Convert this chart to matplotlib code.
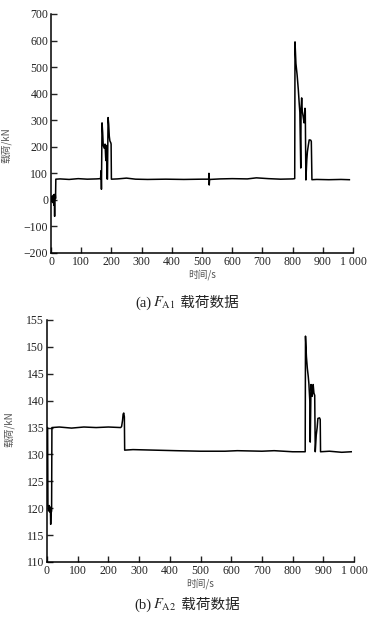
import matplotlib
matplotlib.use("Agg")
import matplotlib.pyplot as plt
from matplotlib.offsetbox import TextArea, HPacker, AnchoredOffsetbox

# ── fonts ──
plt.rcParams["font.family"] = ["Liberation Serif", "Noto Sans CJK SC"]
plt.rcParams["mathtext.fontset"] = "stix"
plt.rcParams["axes.unicode_minus"] = True

# ─────────────────────────────────────────────
# DATA
# ─────────────────────────────────────────────
# (a) F_A1 load, kN
fa1_time = [0, 2, 4, 5, 7, 9, 10, 11, 12, 13, 14, 15, 16,
            30, 60, 90, 120, 150, 164, 166, 167, 169, 171, 173, 176, 179,
            181, 182, 183, 184, 185, 187, 189, 191, 193, 195, 198, 199, 200,
            220, 250, 280, 320, 380, 440, 500, 522, 523, 524, 525, 526,
            560, 600, 650, 680, 720, 760, 800, 807,
            808, 811, 815, 819, 822, 824, 827, 828, 830, 832, 835, 838,
            841, 842, 844, 847, 849, 852, 855, 860, 862, 864,
            880, 920, 960, 988]
fa1_load = [10, -5, 15, -10, 5, 20, -20, 0, -62, 10, 22, 5, 78,
            79, 77, 80, 78, 79, 80, 110, 40, 290, 255, 205, 195, 210,
            160, 148, 200, 205, 80, 78, 310, 285, 240, 222, 215, 210, 78,
            79, 82, 78, 77, 78, 77, 78, 78, 100, 56, 78, 77,
            79, 80, 79, 83, 80, 78, 79, 80,
            595, 514, 470, 414, 361, 330, 120, 340, 384, 335, 313, 290,
            345, 335, 75, 150, 181, 205, 226, 225, 220, 76,
            77, 76, 77, 76]

# (b) F_A2 load, kN
fa2_time = [0, 2, 3, 5, 7, 9, 11, 12, 13, 15, 16,
            40, 80, 120, 160, 200, 240, 243, 246, 248, 250, 252, 253,
            280, 350, 420, 500, 580, 620, 700, 740, 800, 841,
            842, 845, 848, 851, 853, 856, 857.5, 860, 864, 867, 869.5, 872,
            873.8, 877, 880, 882.4, 887.8, 890, 891,
            920, 960, 991]
fa2_load = [135, 135, 120.5, 119.5, 120.5, 119.3, 120.2, 117, 119, 119.5, 135,
            135.1, 134.9, 135.1, 135, 135.1, 135, 135.2, 136.3, 137.5, 137.7, 137, 130.8,
            130.9, 130.8, 130.7, 130.6, 130.6, 130.7, 130.6, 130.7, 130.5, 130.5,
            152, 148.2, 146, 144.5, 143.2, 140, 132.3, 143, 140.8, 143, 141.4, 141,
            130.5, 133.6, 135, 136.7, 136.8, 136.5, 130.5,
            130.6, 130.4, 130.5]

x_ticks = [0, 100, 200, 300, 400, 500, 600, 700, 800, 900, 1000]
x_tick_labels = ["0", "100", "200", "300", "400", "500", "600", "700", "800", "900", "1 000"]
fa1_y_ticks = [-200, -100, 0, 100, 200, 300, 400, 500, 600, 700]
fa2_y_ticks = [110, 115, 120, 125, 130, 135, 140, 145, 150, 155]

W, H = 379, 619
fig = plt.figure(figsize=(W / 100, H / 100), dpi=100)


def px_axes(left, top, right, bottom):
    # axes rectangle from pixel edges
    return fig.add_axes([left / W, 1 - bottom / H, (right - left) / W, (bottom - top) / H])


def style(ax, yticks, ylim):
    ax.set_xlim(0, 1000)
    ax.set_ylim(*ylim)
    ax.set_xticks(x_ticks)
    ax.set_xticklabels(x_tick_labels)
    ax.set_yticks(yticks)
    for s in ["top", "right"]:
        ax.spines[s].set_visible(False)
    for s in ["left", "bottom"]:
        ax.spines[s].set_linewidth(1.1)
    ax.tick_params(direction="in", length=4, width=1.0, labelsize=8.5, pad=2,
                   colors="#222222")
    ax.set_ylabel("载荷/kN", family="Noto Sans CJK SC", fontsize=7, color="#555555")
    ax.set_xlabel("时间/s", family="Noto Sans CJK SC", fontsize=7, color="#555555",
                  labelpad=1)


def caption(letter, sub, y_px):
    parts = [
        TextArea("(" + letter + ")", textprops=dict(family="Liberation Serif", size=10.5, color="#222222")),
        TextArea(r"$F_{\mathrm{" + sub + "}}$", textprops=dict(size=10.5, color="#222222")),
        TextArea(" 载荷数据", textprops=dict(family="Noto Sans CJK SC", size=10.5, color="#222222")),
    ]
    box = HPacker(children=parts, align="baseline", pad=0, sep=1)
    anchored = AnchoredOffsetbox(loc="center", child=box, frameon=False, pad=0, borderpad=0,
                                 bbox_to_anchor=(187 / W, 1 - y_px / H),
                                 bbox_transform=fig.transFigure)
    fig.add_artist(anchored)


# ── (a) ──
ax1 = px_axes(51, 14, 353, 253)
ax1.plot(fa1_time, fa1_load, color="black", linewidth=1.1)
style(ax1, fa1_y_ticks, (-200, 700))
ax1.yaxis.set_label_coords(-0.13, 0.45)
caption("a", "A1", 303)

# ── (b) ──
ax2 = px_axes(47, 320, 354, 562)
ax2.plot(fa2_time, fa2_load, color="black", linewidth=1.1)
style(ax2, fa2_y_ticks, (110, 155))
ax2.yaxis.set_label_coords(-0.105, 0.55)
caption("b", "A2", 605)

fig.savefig("out.png", dpi=100, facecolor="white")
